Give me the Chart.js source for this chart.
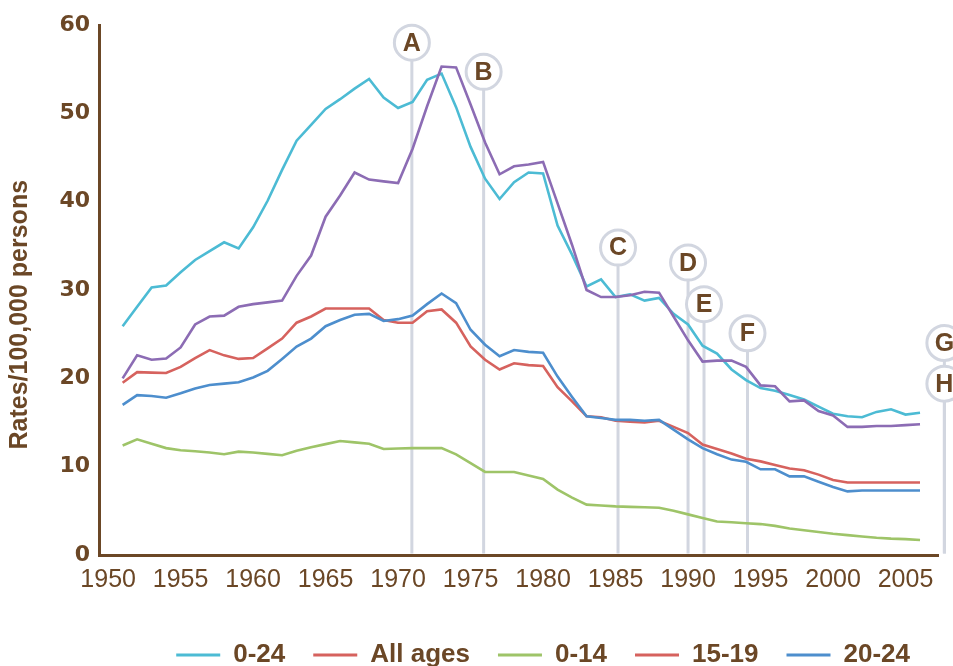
<!DOCTYPE html>
<html>
<head>
<meta charset="utf-8">
<script src="https://cdn.jsdelivr.net/npm/chart.js@4"></script>
<style>
html,body{margin:0;padding:0;background:#ffffff;}
canvas{display:block;}
</style>
</head>
<body>
<canvas id="chart" width="953" height="666"></canvas>
<script>
// ---------- data ----------
const years = [1951,1952,1953,1954,1955,1956,1957,1958,1959,1960,
               1961,1962,1963,1964,1965,1966,1967,1968,1969,1970,
               1971,1972,1973,1974,1975,1976,1977,1978,1979,1980,
               1981,1982,1983,1984,1985,1986,1987,1988,1989,1990,
               1991,1992,1993,1994,1995,1996,1997,1998,1999,2000,
               2001,2002,2003,2004,2005,2006];

const rate0to24 = [25.9,28.1,30.3,30.5,32.0,33.4,34.4,35.4,34.7,37.1,
                   40.1,43.6,46.9,48.7,50.5,51.6,52.8,53.9,51.8,50.6,
                   51.3,53.8,54.5,50.7,46.2,42.6,40.3,42.2,43.3,43.2,
                   37.3,34.0,30.4,31.2,29.2,29.5,28.8,29.1,27.3,26.1,
                   23.7,22.8,21.0,19.8,18.9,18.6,18.1,17.6,16.8,16.0,
                   15.7,15.6,16.2,16.5,15.9,16.1];

const rateAllAges = [19.5,20.7,20.65,20.6,21.3,22.3,23.2,22.6,22.2,22.3,
                     23.4,24.5,26.3,27.0,27.9,27.9,27.9,27.9,26.6,26.3,
                     26.3,27.6,27.8,26.3,23.6,22.1,21.0,21.7,21.5,21.4,
                     19.0,17.4,15.7,15.6,15.2,15.1,15.0,15.2,14.5,13.8,
                     12.5,12.0,11.5,10.9,10.6,10.2,9.8,9.6,9.1,8.5,
                     8.2,8.2,8.2,8.2,8.2,8.2];

const rate0to14 = [12.4,13.1,12.6,12.1,11.85,11.75,11.6,11.4,11.7,11.6,
                   11.45,11.3,11.8,12.2,12.55,12.9,12.75,12.6,12.0,12.05,
                   12.1,12.1,12.1,11.4,10.4,9.4,9.4,9.4,9.0,8.6,
                   7.4,6.5,5.7,5.6,5.5,5.45,5.4,5.35,5.0,4.6,
                   4.2,3.8,3.7,3.6,3.5,3.3,3.0,2.8,2.6,2.4,
                   2.25,2.1,1.95,1.85,1.8,1.7];

const rate15to19 = [20.0,22.6,22.1,22.25,23.5,26.1,27.0,27.1,28.1,28.4,
                    28.6,28.8,31.6,33.9,38.3,40.7,43.3,42.5,42.3,42.1,
                    46.0,50.8,55.3,55.2,51.0,46.7,43.1,44.0,44.2,44.5,
                    39.8,35.1,30.0,29.2,29.2,29.4,29.8,29.7,27.0,24.3,
                    21.9,22.0,22.0,21.3,19.2,19.1,17.4,17.5,16.3,15.8,
                    14.5,14.5,14.6,14.6,14.7,14.8];

const rate20to24 = [17.0,18.1,18.0,17.8,18.3,18.85,19.25,19.4,19.55,20.1,
                    20.85,22.2,23.6,24.5,25.9,26.6,27.2,27.3,26.5,26.7,
                    27.1,28.4,29.6,28.5,25.5,23.8,22.5,23.2,23.0,22.9,
                    20.2,17.9,15.7,15.5,15.3,15.3,15.2,15.3,14.2,13.1,
                    12.1,11.4,10.8,10.55,9.7,9.7,8.9,8.9,8.3,7.7,
                    7.2,7.3,7.3,7.3,7.3,7.3];

const xTickValues = [1950,1955,1960,1965,1970,1975,1980,1985,1990,1995,2000,2005];
const yTickValues = [0,10,20,30,40,50,60];

const legendNames = ['0-24','All ages','0-14','15-19','20-24'];
const yAxisTitle = 'Rates/100,000 persons';

// event markers (year of the vertical line, letter)
const markerLetters = ['A','B','C','D','E','F','G','H'];
const markerYears   = [1970.95,1975.9,1985.17,1990.0,1991.1,1994.1,2007.68,2007.68];
</script>
<script>
// ---------- styling ----------
const BROWN = '#6B4726';
const C_CYAN = '#4CBBD4';
const C_RED = '#D6625E';
const C_GREEN = '#9EC468';
const C_PURPLE = '#8C6CB4';
const C_BLUE = '#4D8ECD';
const MARK = '#D2D6E0';
const legendColors = [C_CYAN, C_RED, C_GREEN, C_RED, C_BLUE];
// vertical level (in axis units) where each marker bubble sits
const markerLevels = [58.0,54.7,34.8,33.1,28.4,25.1,24.0,19.4];

function pts(vals){ return years.map((yr,i)=>({x:yr, y:vals[i]})); }

const markerPlugin = {
  id:'markers',
  beforeDatasetsDraw(chart){
    const {ctx, scales:{x, y}} = chart;
    const base = y.getPixelForValue(0);
    ctx.save();
    ctx.strokeStyle = MARK;
    ctx.lineWidth = 3;
    markerLetters.forEach((l,i)=>{
      const px = x.getPixelForValue(markerYears[i]);
      const py = y.getPixelForValue(markerLevels[i]);
      ctx.beginPath(); ctx.moveTo(px, py); ctx.lineTo(px, base - 1.5); ctx.stroke();
    });
    markerLetters.forEach((l,i)=>{
      const px = x.getPixelForValue(markerYears[i]);
      const py = y.getPixelForValue(markerLevels[i]);
      ctx.beginPath(); ctx.arc(px, py, 17.5, 0, Math.PI*2);
      ctx.fillStyle = '#ffffff'; ctx.fill();
      ctx.strokeStyle = MARK; ctx.lineWidth = 3; ctx.stroke();
      ctx.fillStyle = BROWN;
      ctx.font = 'bold 25px "Liberation Sans", Arial, sans-serif';
      ctx.textAlign = 'center'; ctx.textBaseline = 'middle';
      ctx.fillText(l, px, py + 1);
    });
    ctx.restore();
  }
};

// y-axis title, placed beside the value axis
const yTitlePlugin = {
  id:'yTitle',
  afterDraw(chart){
    const {ctx, scales:{y}} = chart;
    ctx.save();
    ctx.translate(20, y.getPixelForValue(27.2));
    ctx.rotate(-Math.PI/2);
    ctx.fillStyle = BROWN;
    ctx.font = 'bold 25px "Liberation Sans", Arial, sans-serif';
    ctx.textAlign = 'center'; ctx.textBaseline = 'middle';
    ctx.fillText(yAxisTitle, 0, 0);
    ctx.restore();
  }
};

const ds = (label, vals, color) => ({
  label, data: pts(vals), borderColor: color, backgroundColor: color,
  borderWidth: 2.6, pointRadius: 0, tension: 0, fill: false
});

new Chart(document.getElementById('chart'), {
  type: 'line',
  data: {
    datasets: [
      ds('15-19', rate15to19, C_PURPLE),
      ds('0-24', rate0to24, C_CYAN),
      ds('20-24', rate20to24, C_BLUE),
      ds('All ages', rateAllAges, C_RED),
      ds('0-14', rate0to14, C_GREEN)
    ]
  },
  options: {
    responsive: false,
    animation: false,
    devicePixelRatio: 1,
    layout: { padding: { top: 25, right: 15, bottom: -12, left: 0 } },
    plugins: {
      tooltip: { enabled: false },
      legend: {
        position: 'bottom', align: 'end', fullSize: false,
        labels: {
          boxWidth: 44, boxHeight: 3, padding: 28, color: BROWN,
          font: { family: '"Liberation Sans", Arial, sans-serif', weight: 'bold', size: 26 },
          generateLabels: () => legendNames.map((t,i)=>({
            text: t, fillStyle: legendColors[i], strokeStyle: legendColors[i],
            lineWidth: 0, hidden: false, datasetIndex: i, fontColor: BROWN
          }))
        }
      }
    },
    scales: {
      x: {
        type: 'linear', min: 1949.37, max: 2007.24,
        afterBuildTicks: s => { s.ticks = xTickValues.map(v => ({value: v})); },
        afterFit: s => { s.height = 59; },
        grid: { display: false, drawTicks: false },
        border: { display: true, color: BROWN, width: 3 },
        ticks: {
          color: BROWN, padding: 10, autoSkip: false, maxRotation: 0,
          font: { family: '"Liberation Sans", Arial, sans-serif', size: 25 },
          callback: v => String(v)
        }
      },
      y: {
        min: 0, max: 60,
        afterBuildTicks: s => { s.ticks = yTickValues.map(v => ({value: v})); },
        afterFit: s => { s.width = 99; },
        grid: { display: false, drawTicks: false },
        border: { display: true, color: BROWN, width: 3 },
        ticks: {
          color: BROWN, padding: 9,
          font: { family: '"DejaVu Sans", sans-serif', weight: 'bold', size: 22 },
          callback: v => String(v)
        },
        title: { display: false }
      }
    }
  },
  plugins: [markerPlugin, yTitlePlugin]
});
</script>
</body>
</html>
